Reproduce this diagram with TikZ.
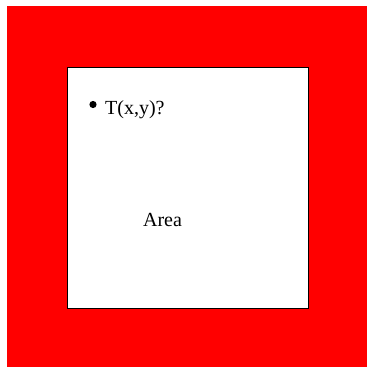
\documentclass[tikz,border=0pt]{standalone}
\usepackage{fontspec}
\setmainfont{Liberation Serif}
\begin{document}
\begin{tikzpicture}[x=1pt,y=1pt,
  lbl/.style={inner sep=0pt,font=\fontsize{20}{24}\selectfont}]
\useasboundingbox (0,0) rectangle (367,367);
\fill[red] (6.5,0) rectangle (367,360.5);
\node[draw=black,fill=white,line width=0.8pt,minimum width=241pt,minimum height=241pt,inner sep=0pt] (area) at (187.5,179.5) {};
\fill[black] (93,262.5) circle (3.6) coordinate (dot);
\node[lbl,anchor=base west] (T) at (105,252) {T(x,y)?};
\node[lbl,anchor=base] (A) at (162.5,140.5) {Area};
\end{tikzpicture}
\end{document}
